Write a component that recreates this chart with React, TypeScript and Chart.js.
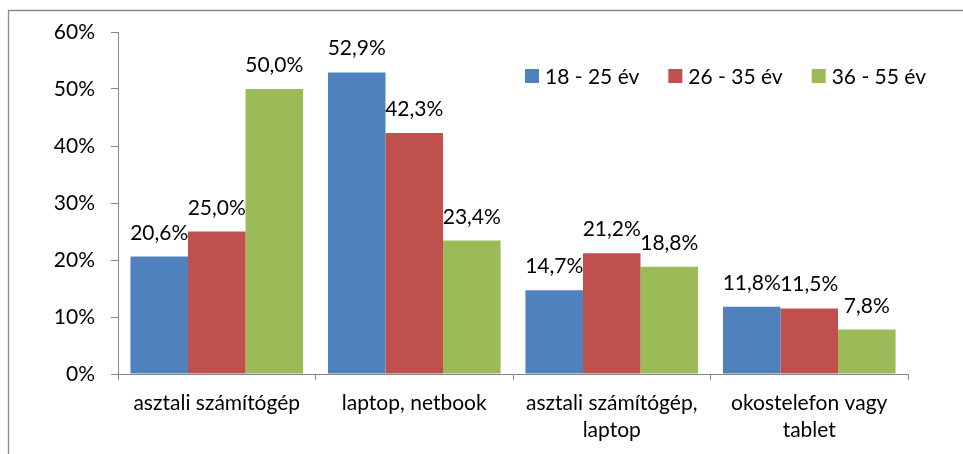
import React, { useEffect, useRef } from "react";
import { Chart, registerables } from "chart.js";

Chart.register(...registerables);

const categories: (string | string[])[] = [
  "asztali számítógép",
  "laptop, netbook",
  ["asztali számítógép,", "laptop"],
  ["okostelefon vagy", "tablet"],
];
const seriesNames = ["18 - 25 év", "26 - 35 év", "36 - 55 év"];
const series1825 = [20.6, 52.9, 14.7, 11.8];
const series2635 = [25.0, 42.3, 21.2, 11.5];
const series3655 = [50.0, 23.4, 18.8, 7.8];
const seriesColors = ["#4F81BD", "#C0504D", "#9BBB59"];
const yTicks = [0, 10, 20, 30, 40, 50, 60];

const FONT = "Lato";
const FSIZE = 21;
const AXIS = "#868686";

const fmt = (v: number) => v.toFixed(1).replace(".", ",") + "%";

const framePlugin = {
  id: "frame",
  beforeDraw(chart: any) {
    const ctx = chart.ctx;
    ctx.save();
    ctx.fillStyle = "#fff";
    ctx.fillRect(0, 0, chart.width, chart.height);
    ctx.strokeStyle = "#8a8a8a";
    ctx.lineWidth = 1.3;
    ctx.beginPath();
    ctx.moveTo(8.5, chart.height + 2);
    ctx.lineTo(8.5, 10.5);
    ctx.lineTo(chart.width + 2, 10.5);
    ctx.stroke();
    ctx.restore();
  },
};

const labelPlugin = {
  id: "barLabels",
  afterDatasetsDraw(chart: any) {
    const ctx = chart.ctx;
    ctx.save();
    ctx.font = `${FSIZE}px ${FONT}`;
    ctx.fillStyle = "#000";
    ctx.textAlign = "center";
    ctx.textBaseline = "alphabetic";
    chart.data.datasets.forEach((ds: any, i: number) => {
      const meta = chart.getDatasetMeta(i);
      meta.data.forEach((bar: any, j: number) => {
        ctx.fillText(fmt(ds.data[j]), bar.x, bar.y - 17);
      });
    });
    ctx.restore();
  },
};

const legendPlugin = {
  id: "customLegend",
  afterDraw(chart: any) {
    const ctx = chart.ctx;
    ctx.save();
    ctx.font = `${FSIZE}px ${FONT}`;
    ctx.textBaseline = "middle";
    ctx.textAlign = "left";
    let x = 525;
    const cy = 76;
    chart.data.datasets.forEach((ds: any) => {
      ctx.fillStyle = ds.backgroundColor;
      ctx.fillRect(x, cy - 7, 14, 14);
      ctx.fillStyle = "#000";
      ctx.fillText(ds.label, x + 20, cy + 1);
      x += 20 + ctx.measureText(ds.label).width + 29;
    });
    ctx.restore();
  },
};

export default function App() {
  const ref = useRef<HTMLCanvasElement>(null);
  useEffect(() => {
    if (!ref.current) return;
    const values = [series1825, series2635, series3655];
    const chart = new Chart(ref.current, {
      type: "bar",
      data: {
        labels: categories as any,
        datasets: seriesNames.map((n, i) => ({
          label: n,
          data: values[i],
          backgroundColor: seriesColors[i],
          borderWidth: 0,
          barPercentage: 1,
          categoryPercentage: 0.874,
        })),
      },
      options: {
        animation: false,
        responsive: false,
        maintainAspectRatio: false,
        layout: { padding: { left: 0, right: 55, top: 32, bottom: 0 } },
        plugins: {
          legend: { display: false },
          tooltip: { enabled: false },
        },
        scales: {
          x: {
            offset: true,
            afterFit: (s: any) => {
              s.height = 80;
            },
            grid: {
              display: true,
              drawOnChartArea: false,
              drawTicks: true,
              tickLength: 6,
              color: AXIS,
              offset: true,
            },
            border: { display: true, color: AXIS, width: 1 },
            ticks: {
              color: "#000",
              font: { family: FONT, size: FSIZE, lineHeight: 1.27 },
              padding: 10,
              maxRotation: 0,
              autoSkip: false,
            },
          },
          y: {
            min: 0,
            max: 60,
            afterFit: (s: any) => {
              s.width = 118;
            },
            afterBuildTicks: (s: any) => {
              s.ticks = yTicks.map((v) => ({ value: v }));
            },
            grid: {
              display: true,
              drawOnChartArea: false,
              drawTicks: true,
              tickLength: 7,
              color: AXIS,
            },
            border: { display: true, color: AXIS, width: 1 },
            ticks: {
              color: "#000",
              font: { family: FONT, size: FSIZE },
              padding: 16,
              callback: (v: any) => `${v}%`,
            },
          },
        },
      },
      plugins: [framePlugin, labelPlugin, legendPlugin],
    });
    return () => chart.destroy();
  }, []);
  return (
    <div style={{ position: "fixed", left: 0, top: 0, width: 963, height: 454 }}>
      <canvas ref={ref} width={963} height={454} style={{ display: "block" }} />
    </div>
  );
}
